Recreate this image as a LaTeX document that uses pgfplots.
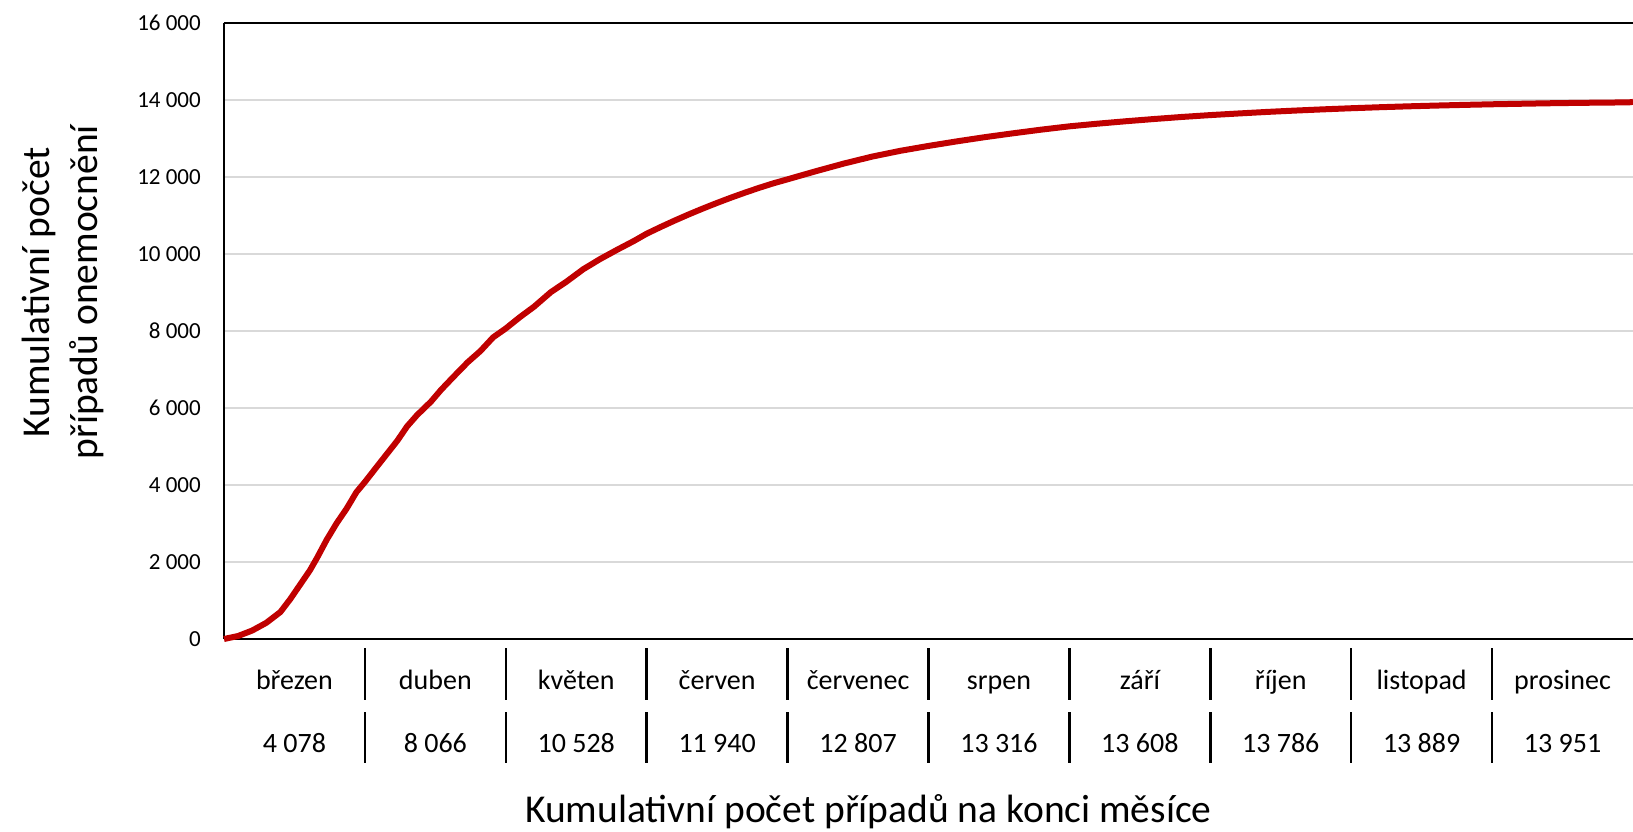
\documentclass[border=0pt]{standalone}
\usepackage{fontspec}
\setmainfont{Carlito}
\usepackage{pgfplots}
\pgfplotsset{compat=1.18}
\definecolor{curvec}{HTML}{C00000}
\definecolor{gridc}{HTML}{D9D9D9}
\begin{document}
\begin{tikzpicture}
\path[use as bounding box] (-224pt,-192pt) rectangle (1409pt,639pt);
\begin{axis}[
  at={(0pt,0pt)}, anchor=south west,
  scale only axis, width=1409pt, height=616pt,
  xmin=0, xmax=10, ymin=0, ymax=16000,
  scaled y ticks=false, scaled x ticks=false,
  axis x line*=bottom, axis y line*=left,
  axis line style={-, line width=1.3pt, black},
  ytick={0,2000,4000,6000,8000,10000,12000,14000,16000},
  yticklabels={0,2 000,4 000,6 000,8 000,10 000,12 000,14 000,16 000},
  yticklabel style={font=\fontsize{23}{27}\selectfont, anchor=east, inner sep=0pt, xshift=-23pt},
  ymajorgrids, grid style={gridc, line width=1.3pt},
  major tick length=0pt,
  xtick={0.5,1.5,2.5,3.5,4.5,5.5,6.5,7.5,8.5,9.5},
  xticklabels={březen,duben,květen,červen,červenec,srpen,září,říjen,listopad,prosinec},
  xticklabel style={font=\fontsize{28}{33}\selectfont, anchor=base, inner sep=0pt, yshift=-50pt},
  extra x ticks={0.5,1.5,2.5,3.5,4.5,5.5,6.5,7.5,8.5,9.5},
  extra x tick labels={4 078,8 066,10 528,11 940,12 807,13 316,13 608,13 786,13 889,13 951},
  extra x tick style={grid=none, xticklabel style={yshift=-63pt}},
  xlabel={Kumulativní počet případů na konci měsíce},
  ylabel={Kumulativní počet\\případů onemocnění},
  every axis x label/.style={at={(axis description cs:0.4574,-0.2971)}, anchor=base, font=\fontsize{39.5}{48}\selectfont},
  every axis y label/.style={at={(axis description cs:-0.1140,0.563)}, anchor=center, rotate=90, align=center, font=\fontsize{39.5}{48}\selectfont},
  clip=false,
]
\addplot[curvec, line width=6pt, line join=round, no markers] coordinates {
(0,0) (0.1,78) (0.2,220) (0.3,420) (0.4,700) (0.47,1035) (0.54,1410) (0.61,1785)
(0.66,2105) (0.73,2585) (0.80,3010) (0.87,3385) (0.94,3815) (1.0,4078)
(1.09,4500) (1.16,4825) (1.23,5150) (1.30,5525) (1.37,5815) (1.47,6170) (1.54,6470)
(1.63,6815) (1.73,7190) (1.82,7480) (1.91,7835) (2.0,8066)
(2.10,8360) (2.20,8630) (2.32,9010) (2.43,9280) (2.55,9605) (2.67,9870) (2.79,10110)
(2.91,10340) (3.0,10528)
(3.1,10703) (3.2,10871) (3.3,11031) (3.4,11183) (3.5,11328) (3.6,11466) (3.7,11597)
(3.8,11721) (3.9,11837) (4.0,11940)
(4.2,12150) (4.4,12350) (4.6,12530) (4.8,12680) (5.0,12807)
(5.2,12925) (5.4,13035) (5.6,13135) (5.8,13230) (6.0,13316)
(6.2,13385) (6.4,13448) (6.6,13506) (6.8,13560) (7.0,13608)
(7.2,13650) (7.4,13690) (7.6,13725) (7.8,13757) (8.0,13786)
(8.2,13812) (8.4,13835) (8.6,13855) (8.8,13873) (9.0,13889)
(9.2,13902) (9.4,13915) (9.6,13925) (9.8,13933) (9.97,13938) (10.0,13951)
};
\draw[line width=1.3pt] (rel axis cs:0,1) -- (rel axis cs:1,1);
\pgfplotsinvokeforeach{1,...,9}{
  \draw[line width=2.5pt] ([yshift=-9pt]axis cs:#1,0) -- ([yshift=-61pt]axis cs:#1,0);
  \draw[line width=2.5pt] ([yshift=-73pt]axis cs:#1,0) -- ([yshift=-124pt]axis cs:#1,0);
}
\end{axis}
\end{tikzpicture}
\end{document}
